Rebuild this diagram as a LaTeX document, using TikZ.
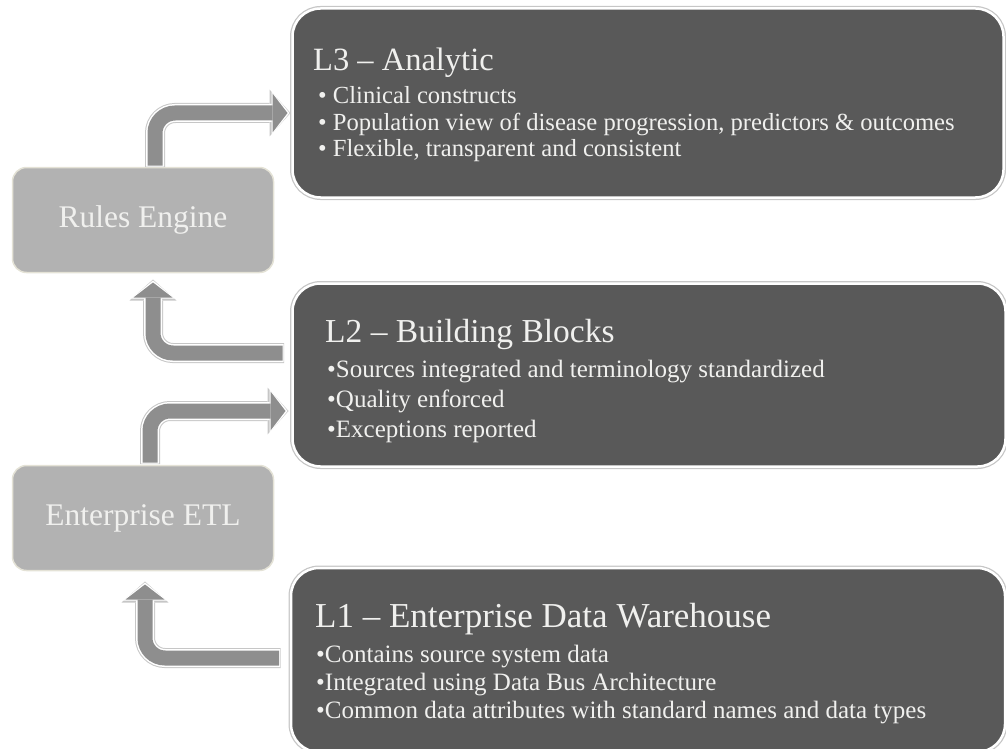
\documentclass[tikz,border=0pt]{standalone}
\usepackage{fontspec}
\setmainfont{Liberation Serif}
\usetikzlibrary{arrows.meta}

\begin{document}
\begin{tikzpicture}[x=1pt, y=-1pt,
        lightbox/.style={rectangle, draw=boxrim, line width=1.5pt, fill=lightfill, rounded corners=14pt, outer sep=0pt,
            minimum width=261pt, minimum height=105pt, text=softwhite, font=\fontsize{31.5}{36}\selectfont},
        darkbox/.style={rectangle, draw=white, line width=2.5pt, fill=darkfill, rounded corners=28pt, outer sep=0pt,
            preaction={draw=rimgray, line width=5pt}},
        title/.style={anchor=base west, inner sep=0pt, text=softwhite, font=\fontsize{#1}{36}\selectfont},
        title/.default=33,
        bullet/.style={anchor=base west, inner sep=0pt, text=softwhite, font=\fontsize{#1}{29}\selectfont},
        bullet/.default=25,
        bentarrow/.style={rounded corners=20pt,
            preaction={draw=rimgray, line width=20pt, -{Triangle[length=21pt, width=47pt, line width=0pt]}, shorten >=-3pt, shorten <=-1.5pt},
            preaction={draw=white, line width=18pt, -{Triangle[length=18pt, width=44pt, line width=0pt]}, shorten >=-2pt, shorten <=-1pt},
            draw=arrowfill, line width=15pt, -{Triangle[length=15pt, width=39pt, line width=0pt]}}]
        \definecolor{darkfill}{RGB}{89,89,89}
        \definecolor{lightfill}{RGB}{178,178,178}
        \definecolor{boxrim}{RGB}{228,226,214}
        \definecolor{rimgray}{RGB}{198,198,198}
        \definecolor{arrowfill}{RGB}{142,142,142}
        \definecolor{softwhite}{RGB}{240,240,238}
        \useasboundingbox (0,0) rectangle (1006,749);

        \node[lightbox] (re) at (143,220) {Rules Engine};
        \node[lightbox] (etl) at (143,518) {Enterprise ETL};

        \node[darkbox, minimum width=711pt, minimum height=189pt] (l3) at (648,103) {};
        \node[darkbox, minimum width=713pt, minimum height=183pt] (l2) at (649,375) {};
        \node[darkbox, minimum width=714pt, minimum height=184pt] (l1) at (648,660) {};

        % L3
        \node[title=32.5] (l3title) at (313,71) {L3 -- Analytic};
        \foreach \line [count=\i] in {Clinical constructs, {Population view of disease progression, predictors \& outcomes}, {Flexible, transparent and consistent}}
            \node[bullet=24.6] (l3b\i) at (318, {77.5+26.5*\i}) {• \line};

        % L2
        \node[title=33.5] (l2title) at (325,342) {L2 -- Building Blocks};
        \foreach \line [count=\i] in {Sources integrated and terminology standardized, Quality enforced, Exceptions reported}
            \node[bullet] (l2b\i) at (327, {347+30*\i}) {•\line};

        % L1
        \node[title=35] (l1title) at (315,627) {L1 -- Enterprise Data Warehouse};
        \foreach \line [count=\i] in {Contains source system data, Integrated using Data Bus Architecture, Common data attributes with standard names and data types}
            \node[bullet] (l1b\i) at (316, {634+28*\i}) {•\line};

        % arrows between the levels
        \draw[bentarrow] ([xshift=12pt, yshift=2pt]re.north) |- ([xshift=-5pt, yshift=-10pt]l3.west);
        \draw[bentarrow] ([xshift=-10pt, yshift=22pt]l2.west) -| ([xshift=10pt, yshift=-10pt]re.south);
        \draw[bentarrow] ([xshift=7pt, yshift=3pt]etl.north) |- ([xshift=-7pt, yshift=-36pt]l2.west);
        \draw[bentarrow] ([xshift=-12pt, yshift=2pt]l1.west) -| ([xshift=2pt, yshift=-14pt]etl.south);
    \end{tikzpicture}
\end{document}
